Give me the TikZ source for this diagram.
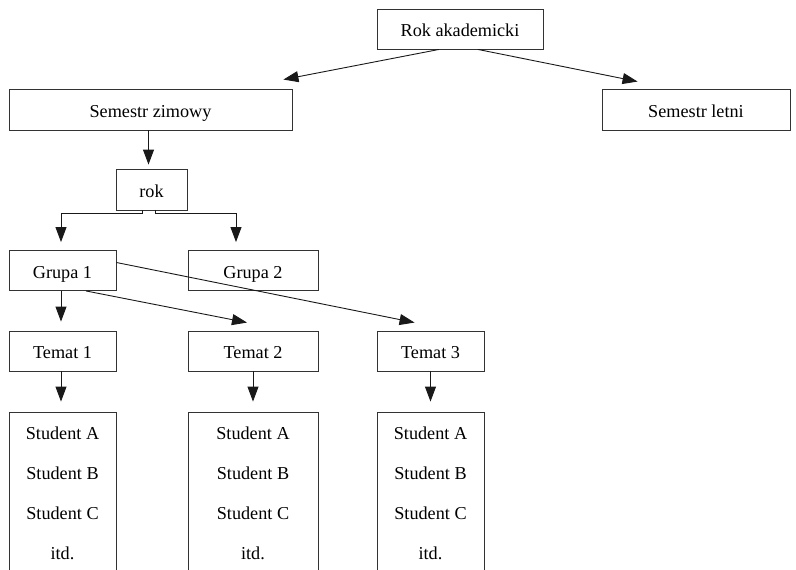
\documentclass[tikz,border=0pt]{standalone}
\usepackage{fontspec}
\setmainfont{Liberation Serif}
\usetikzlibrary{arrows.meta}

\tikzset{
  box/.style={draw=black!80, line width=0.9pt, rectangle, inner sep=0pt,
              text height=15pt, text depth=0pt,
              font=\fontsize{18.2}{21}\selectfont},
  arr/.style={draw=black!90, line width=0.9pt,
              -{Triangle[length=15pt,width=11pt]}},
  item/.style={inner sep=0pt, text height=12pt, text depth=0pt,
               font=\fontsize{18.2}{21}\selectfont}
}

\begin{document}
\begin{tikzpicture}[x=1pt, y=-1pt]
  \useasboundingbox (0,0) rectangle (796,570);
  \clip (0,0) rectangle (796,570);

  % top level
  \node[box, minimum width=166pt, minimum height=40pt] (ra) at (460,29) {Rok akademicki};
  \node[box, minimum width=283pt, minimum height=41pt] (sz) at (150.5,109.5) {Semestr zimowy};
  \node[box, minimum width=188pt, minimum height=41pt] (sl) at (696,109.5) {Semestr letni};

  % year and groups
  \node[box, minimum width=71pt, minimum height=41pt] (rok) at (151.5,189.5) {rok};
  \node[box, minimum width=107pt, minimum height=40pt] (g1) at (62.5,270.5) {Grupa 1};
  \node[box, minimum width=130pt, minimum height=40pt] (g2) at (253,270.5) {Grupa 2};

  % topics
  \node[box, minimum width=107pt, minimum height=40pt] (t1) at (62.5,351) {Temat 1};
  \node[box, minimum width=130pt, minimum height=40pt] (t2) at (253,351) {Temat 2};
  \node[box, minimum width=107pt, minimum height=40pt] (t3) at (430.5,351) {Temat 3};

  % student lists (running off the bottom edge)
  \node[box, minimum width=107pt, minimum height=188pt] (s1) at (62.5,506) {};
  \node[box, minimum width=130pt, minimum height=188pt] (s2) at (253,506) {};
  \node[box, minimum width=107pt, minimum height=188pt] (s3) at (430.5,506) {};

  \foreach \s/\x in {s1/62.5, s2/253, s3/430.5}{
    \node[item] (\s a) at (\x,433.5) {Student A};
    \node[item] (\s b) at (\x,473.5) {Student B};
    \node[item] (\s c) at (\x,513.5) {Student C};
    \node[item] (\s d) at (\x,553) {itd.};
  }

  % connectors
  \coordinate (szTip) at ([xshift=-9pt, yshift=9pt]sz.north east);
  \coordinate (slTip) at ([xshift=36pt, yshift=7pt]sl.north west);
  \draw[arr] ([xshift=-21pt]ra.south) -- (szTip);
  \draw[arr] ([xshift=18pt]ra.south) -- (slTip);

  \draw[arr, shorten >=4pt] ([xshift=-3pt]rok.north |- sz.south) -- ([xshift=-3pt]rok.north);

  \coordinate (g1Top) at ([xshift=-1.5pt]g1.north);
  \coordinate (g2Top) at ([xshift=-17pt]g2.north);
  \draw[arr, shorten >=8pt] ([xshift=-9.5pt]rok.south) -- ++(0,3) -| (g1Top);
  \draw[arr, shorten >=8pt] ([xshift=3.5pt]rok.south) -- ++(0,3) -| (g2Top);

  \draw[arr, shorten >=9pt] ([xshift=-1.5pt]g1.south) -- ([xshift=-1.5pt]t1.north);
  \coordinate (t2Tip) at ([xshift=-6pt, yshift=8pt]t2.north);
  \coordinate (t3Tip) at ([xshift=38pt, yshift=8pt]t3.north west);
  \draw[arr] ([xshift=23.5pt]g1.south) -- (t2Tip);
  \draw[arr] ([yshift=8pt]g1.east) -- (t3Tip);

  \draw[arr, shorten >=10pt] ([xshift=-1.5pt]t1.south) -- ([xshift=-1.5pt]s1.north);
  \draw[arr, shorten >=10pt] (t2.south) -- (s2.north);
  \draw[arr, shorten >=10pt] (t3.south) -- (s3.north);
\end{tikzpicture}
\end{document}
